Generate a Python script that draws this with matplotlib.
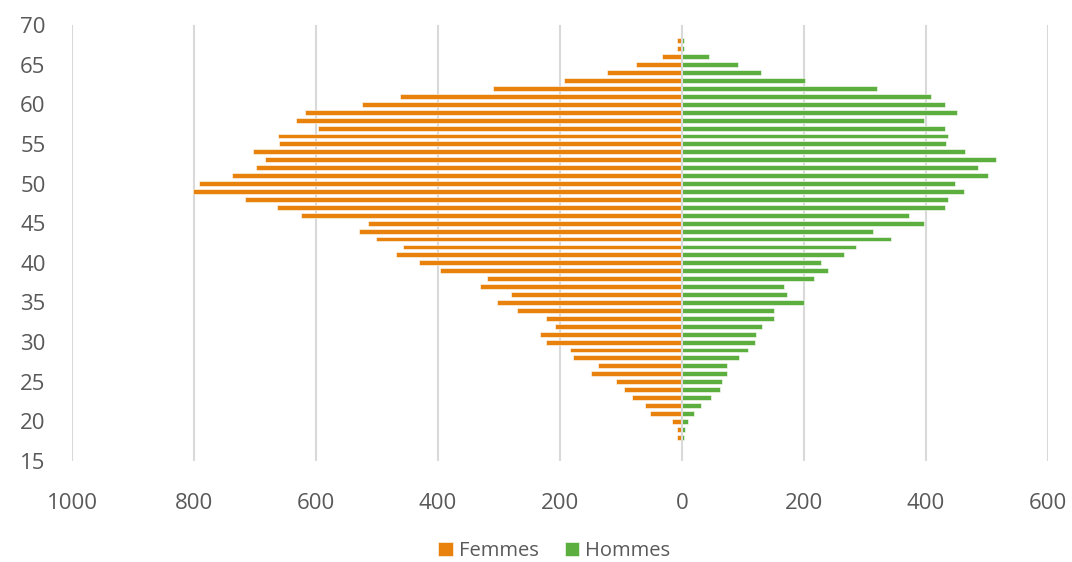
import matplotlib
matplotlib.use("Agg")
import matplotlib.pyplot as plt
import numpy as np

# Age pyramid: number of women (left) and men (right) by age
ages = list(range(18, 69))
femmes = [8, 8, 16, 52, 61, 82, 95, 109, 149, 138, 178, 184, 223, 232, 208, 223,
          270, 304, 280, 331, 320, 396, 431, 469, 458, 501, 529, 514, 624, 664,
          716, 801, 791, 737, 699, 683, 704, 661, 662, 597, 632, 618, 524, 463,
          310, 193, 123, 75, 33, 8, 8]
hommes = [4, 5, 10, 20, 31, 47, 62, 66, 73, 73, 94, 108, 119, 121, 131, 150,
          150, 200, 172, 168, 216, 240, 228, 265, 286, 342, 313, 396, 372, 431,
          436, 462, 448, 501, 485, 514, 464, 432, 436, 431, 396, 450, 431, 409,
          319, 201, 130, 91, 45, 4, 4]
x_ticks = [-1000, -800, -600, -400, -200, 0, 200, 400, 600]
y_ticks = [15, 20, 25, 30, 35, 40, 45, 50, 55, 60, 65, 70]

ORANGE = "#E8820C"
GREEN = "#5CAF3F"
GRID = "#D9D9D9"
TEXT = "#595959"

plt.rcParams["font.family"] = ["Open Sans", "DejaVu Sans"]

fig = plt.figure(figsize=(10.72, 5.62), dpi=100)
ax = fig.add_axes([72 / 1072, 101 / 562, (1048 - 72) / 1072, (461 - 25) / 562])

y = np.array(ages)
ax.barh(y, -np.array(femmes), height=0.62, color=ORANGE, edgecolor="white",
        linewidth=0.4, label="Femmes", zorder=2)
ax.barh(y, np.array(hommes), height=0.62, color=GREEN, edgecolor="white",
        linewidth=0.4, label="Hommes", zorder=2)

for xv in x_ticks:
    ax.axvline(xv, color=GRID, linewidth=1.5, zorder=1 if xv != 0 else 3)

ax.set_xlim(-1000, 600)
ax.set_ylim(15, 70)
ax.set_xticks(x_ticks)
ax.set_xticklabels([str(abs(v)) for v in x_ticks])
ax.set_yticks(y_ticks)
for s in ax.spines.values():
    s.set_visible(False)
ax.tick_params(axis="both", length=0, labelsize=16, labelcolor=TEXT)
ax.tick_params(axis="y", pad=19)
ax.tick_params(axis="x", pad=23)

handles, labels = ax.get_legend_handles_labels()
fig.legend(handles, labels, loc="center", bbox_to_anchor=(0.517, 0.02),
           ncol=2, frameon=False, fontsize=14.5, labelcolor=TEXT,
           handlelength=0.7, handleheight=0.7, handletextpad=0.3,
           columnspacing=1.3)

fig.savefig("out.png", dpi=100, facecolor="white")
